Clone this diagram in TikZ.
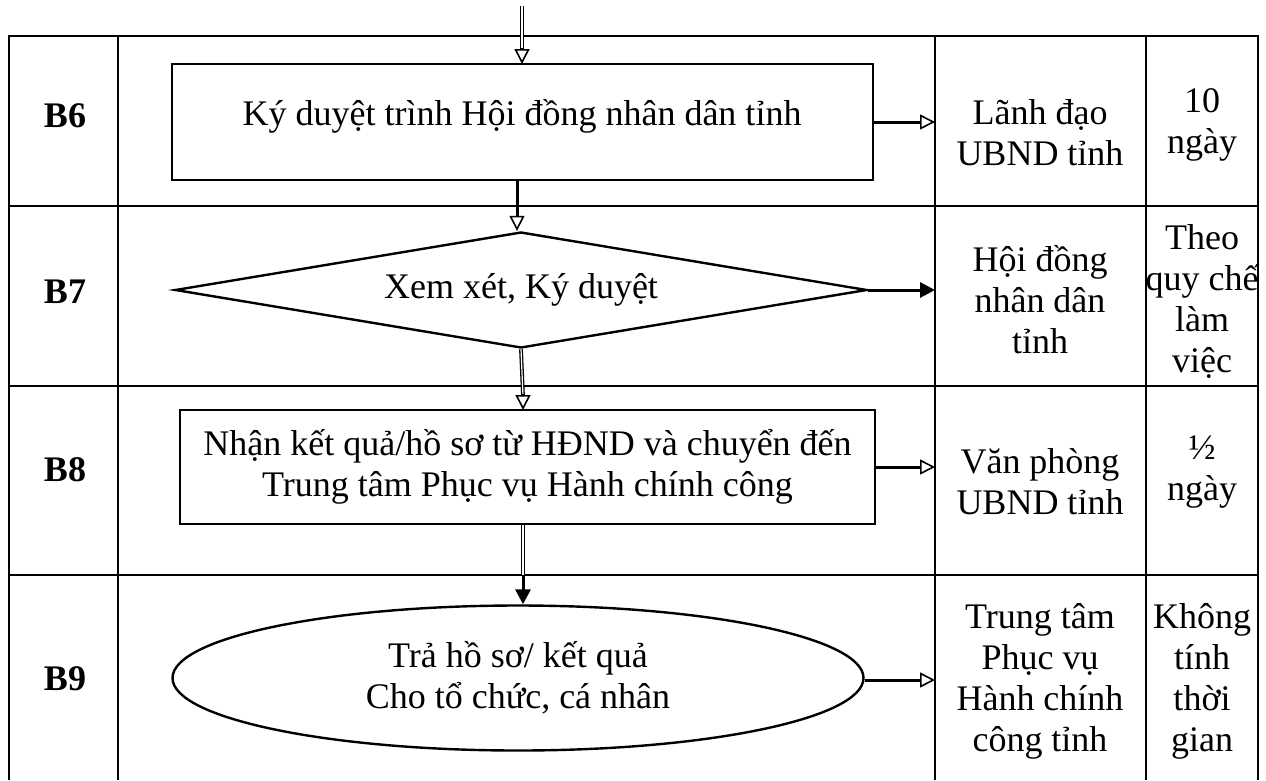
\documentclass[tikz,border=0pt]{standalone}
\usepackage{fontspec}
\setmainfont{Liberation Serif}
\usetikzlibrary{shapes.geometric,arrows.meta,calc}
\begin{document}
\begin{tikzpicture}[x=1pt,y=-1pt,
  grid/.style={line width=1.8pt},
  shp/.style={draw, line width=2.8pt, inner sep=0pt},
  txt/.style={font=\fontsize{36}{41}\selectfont, align=center, inner sep=0pt},
  lbl/.style={font=\bfseries\fontsize{36}{41}\selectfont, inner sep=0pt, anchor=base},
  openarr/.style={-{Triangle[open,length=15pt,width=15pt,line width=1.6pt]}},
  fillarr/.style={-{Triangle[length=15pt,width=15pt]}},
  thickarrow/.style={line width=3pt},
  dbl/.style={draw=black, line width=1.3pt, double=white, double distance=1.2pt},
  headonly/.style={line width=1.4pt, openarr}
]
\useasboundingbox (0,0) rectangle (1266,780);
% table grid
\draw[grid] (9,780) -- (9,36) -- (1258,36) -- (1258,780);
\draw[grid] (118,36) -- (118,780);
\draw[grid] (935,36) -- (935,780);
\draw[grid] (1146,36) -- (1146,780);
\draw[grid] (9,206) -- (1258,206);
\draw[grid] (9,386) -- (1258,386);
\draw[grid] (9,575) -- (1258,575);
% step labels
\node[lbl] (l6) at (65,127) {B6};
\node[lbl] (l7) at (65,303) {B7};
\node[lbl] (l8) at (65,481) {B8};
\node[lbl] (l9) at (65,690) {B9};
% shapes
\node[shp, rectangle, minimum width=701pt, minimum height=116pt] (s6) at (522.5,122) {};
\node[txt, anchor=base] (t6) at (522,125) {Ký duyệt trình Hội đồng nhân dân tỉnh};
\node[shp, diamond, aspect=5.9, minimum width=692pt, minimum height=116pt, line width=2.4pt, txt] (s7) at (521,290) {Xem xét, Ký duyệt};
\node[shp, rectangle, minimum width=695pt, minimum height=114pt, txt] (s8) at (527.5,467) {Nhận kết quả/hồ sơ từ HĐND và chuyển đến\\Trung tâm Phục vụ Hành chính công};
\node[shp, ellipse, minimum width=691pt, minimum height=145pt, line width=2.4pt, txt] (s9) at (518,678) {Trả hồ sơ/ kết quả\\Cho tổ chức, cá nhân};
% right columns
\node[txt] (u6) at (1040,133) {Lãnh đạo\\UBND tỉnh};
\node[txt] (d6) at (1202,125) {10\\ngày};
\node[txt] (u7) at (1040,300) {Hội đồng\\nhân dân\\tỉnh};
\node[txt] (d7) at (1202,301) {Theo\\quy chế\\làm\\việc};
\node[txt] (u8) at (1040,482) {Văn phòng\\UBND tỉnh};
\node[txt] (d8) at (1202,472) {½\\ngày};
\node[txt] (u9) at (1040,681) {Trung tâm\\Phục vụ\\Hành chính\\công tỉnh};
\node[txt] (d9) at (1202,681) {Không\\tính\\thời\\gian};
% connector end points
\coordinate (top) at (522,6);
\coordinate (in6) at (522,64);
\coordinate (in8) at (523,410);
\coordinate (mid9) at (523,575);
\coordinate (e6) at (935,122);
\coordinate (e7) at (935,290);
\coordinate (e8) at (935,467);
\coordinate (e9) at (935,680);
% vertical connectors
\draw[dbl] (top) -- ($(in6)+(0,-14)$);
\draw[headonly] ($(in6)+(0,-16)$) -- (in6);
\draw[thickarrow, openarr] (s6.south -| 517,0) -- (s7.north -| 517,0);
\draw[dbl] (s7.south) -- ($(in8)+(0,-14)$);
\draw[headonly] ($(in8)+(0,-16)$) -- (in8);
\draw[dbl] (s8.south -| mid9) -- (mid9);
\draw[thickarrow, fillarr] (mid9) -- (s9.north -| mid9);
% horizontal connectors
\draw[thickarrow, openarr] (s6.east) -- (e6);
\draw[thickarrow, fillarr] (s7.east) -- (e7);
\draw[thickarrow, openarr] (s8.east) -- (e8);
\draw[thickarrow, openarr] (s9.east |- e9) -- (e9);
\end{tikzpicture}
\end{document}
